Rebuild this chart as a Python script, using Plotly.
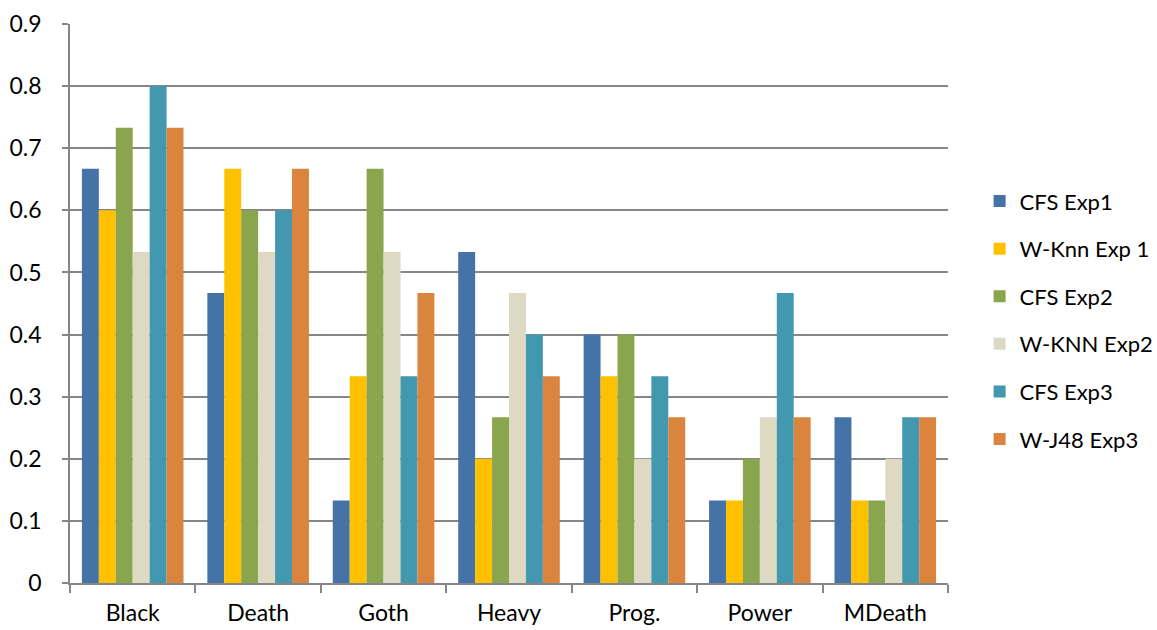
import plotly.graph_objects as go

genres = ["Black", "Death", "Goth", "Heavy", "Prog.", "Power", "MDeath"]

cfs_exp1 = [0.667, 0.467, 0.133, 0.533, 0.400, 0.133, 0.267]
wknn_exp1 = [0.600, 0.667, 0.333, 0.200, 0.333, 0.133, 0.133]
cfs_exp2 = [0.733, 0.600, 0.667, 0.267, 0.400, 0.200, 0.133]
wknn_exp2 = [0.533, 0.533, 0.533, 0.467, 0.200, 0.267, 0.200]
cfs_exp3 = [0.800, 0.600, 0.333, 0.400, 0.333, 0.467, 0.267]
wj48_exp3 = [0.733, 0.667, 0.467, 0.333, 0.267, 0.267, 0.267]

series = [
    ("CFS Exp1", cfs_exp1, "#4572A7"),
    ("W-Knn Exp 1", wknn_exp1, "#FFC000"),
    ("CFS Exp2", cfs_exp2, "#89A54E"),
    ("W-KNN Exp2", wknn_exp2, "#DDD9C3"),
    ("CFS Exp3", cfs_exp3, "#4198AF"),
    ("W-J48 Exp3", wj48_exp3, "#DB843D"),
]

fig = go.Figure()
for i, (name, vals, color) in enumerate(series):
    fig.add_trace(go.Bar(
        x=genres, y=vals, name=name, legendgroup=f"g{i}",
        marker=dict(color=color, line=dict(width=0)),
    ))

font_family = "Lato, Open Sans, sans-serif"

fig.update_layout(
    width=1157, height=630,
    margin=dict(l=70, r=209, t=24, b=47, autoexpand=False),
    paper_bgcolor="white", plot_bgcolor="white",
    barmode="group", bargap=0.19, bargroupgap=0,
    font=dict(family=font_family, size=22, color="#000000"),
    legend=dict(
        x=1.036, y=0.47, xanchor="left", yanchor="middle",
        font=dict(size=22, family=font_family),
        tracegroupgap=16, itemwidth=30,
        bgcolor="rgba(0,0,0,0)",
    ),
    xaxis=dict(
        automargin=False,
        showline=True, linecolor="#868686", linewidth=1.5,
        ticks="outside", tickson="boundaries", ticklen=8,
        tickcolor="#868686", tickwidth=1.5,
        tickfont=dict(size=23), ticklabelstandoff=9,
        showgrid=False,
    ),
    yaxis=dict(
        automargin=False,
        range=[0, 0.9], dtick=0.1, tickformat="~g",
        showline=True, linecolor="#868686", linewidth=1.5,
        ticks="outside", ticklen=6, tickcolor="#868686", tickwidth=1.5,
        showgrid=True, gridcolor="#868686", gridwidth=1.5,
        zeroline=False, tickfont=dict(size=23), ticklabelstandoff=16,
    ),
)

fig.write_html("out.html")
